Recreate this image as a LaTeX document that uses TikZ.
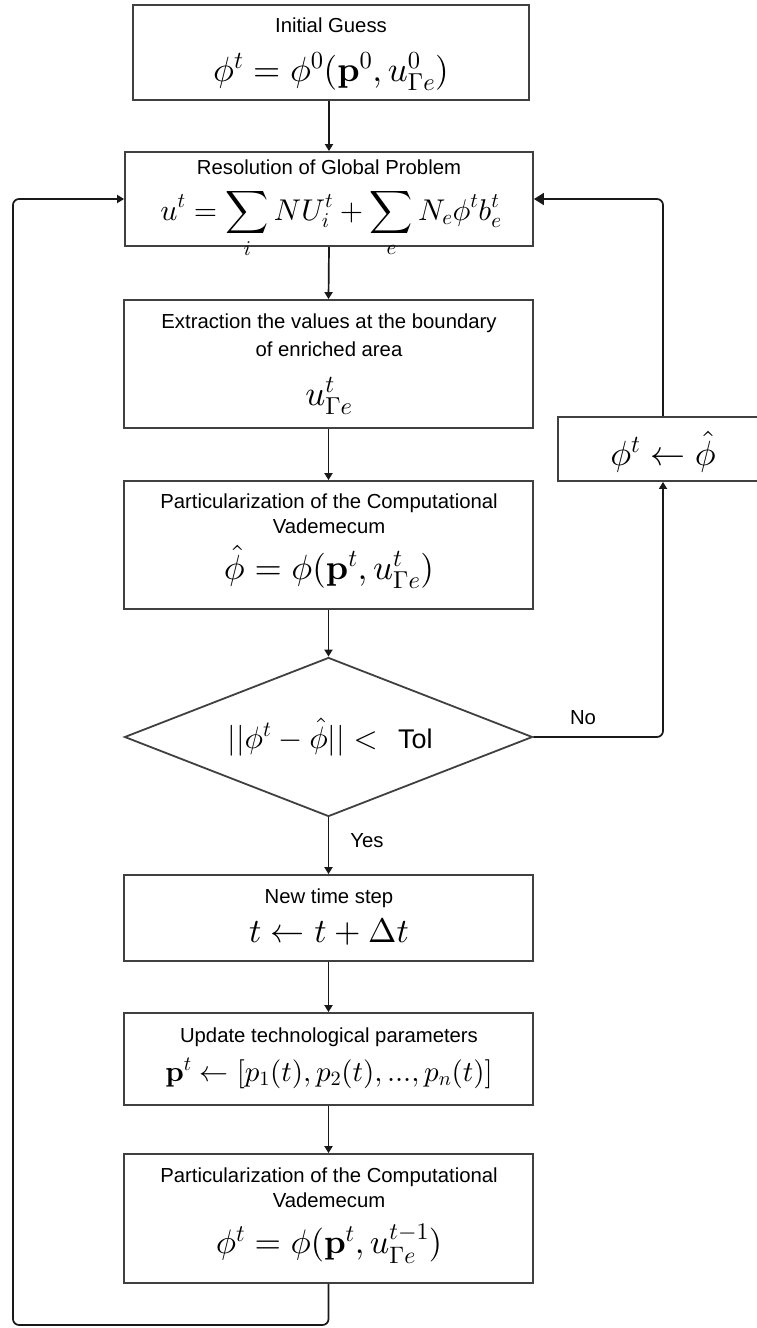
\documentclass[tikz,border=0pt]{standalone}
\usepackage[no-math]{fontspec}
\DeclareFontShape{OT1}{cmr}{m}{n}{<->cmr10}{}
\DeclareFontShape{OT1}{cmr}{bx}{n}{<->cmbx10}{}
\DeclareFontShape{OML}{cmm}{m}{it}{<->cmmi10}{}
\DeclareFontShape{OMS}{cmsy}{m}{n}{<->cmsy10}{}
\DeclareFontShape{OMX}{cmex}{m}{n}{<->cmex10}{}
\newfontfamily\lab{Liberation Sans}
\usetikzlibrary{arrows.meta,shapes.geometric}
\begin{document}
\begin{tikzpicture}[x=1pt,y=-1pt,
  box/.style={draw=black!75, line width=1.8pt, inner sep=0pt},
  lbl/.style={anchor=base, inner sep=0pt, font=\lab\fontsize{20.3}{24}\selectfont},
  eq/.style={anchor=base, inner sep=0pt, font=\fontsize{#1}{#1}\selectfont},
  conn/.style={draw=black!90, line width=1.7pt, rounded corners=6pt, -{Triangle[length=7pt,width=8pt]}},
  bigconn/.style={draw=black!90, line width=1.7pt, rounded corners=6pt, -{Triangle[length=10pt,width=12pt]}}]
\useasboundingbox (0,0) rectangle (757,1328);

% boxes
\node[box, minimum width=396pt, minimum height=95pt] (b1) at (331,52.5) {};
\node[box, minimum width=408pt, minimum height=94pt] (b2) at (329,199) {};
\node[box, minimum width=409pt, minimum height=128pt] (b3) at (328.5,364) {};
\node[box, minimum width=409pt, minimum height=128pt] (b4) at (328.5,545) {};
\node[box, diamond, aspect=2.566, minimum width=408pt, minimum height=159pt] (d) at (328.5,737) {};
\node[box, minimum width=409pt, minimum height=86pt] (b5) at (328.5,918) {};
\node[box, minimum width=409pt, minimum height=92pt] (b6) at (328.5,1059) {};
\node[box, minimum width=409pt, minimum height=129pt] (b7) at (328.5,1218.5) {};
\node[box, minimum width=210pt, minimum height=64pt] (p) at (663,449) {};

% texts
\node[lbl] (t1) at (331,32) {Initial Guess};
\node[eq=35] (f1) at (331,81) {$\phi^t=\phi^0(\mathbf{p}^0,u^0_{\Gamma e})$};
\node[lbl] (t2) at (329,174) {Resolution of Global Problem};
\node[eq=30] (f2) at (331,220) {$\displaystyle u^t=\sum_i NU_i^t+\sum_e N_e\phi^t b_e^t$};
\node[lbl] (t3a) at (329,328) {Extraction the values at the boundary};
\node[lbl] (t3b) at (329,356) {of enriched area};
\node[eq=35] (f3) at (329,405) {$u^t_{\Gamma e}$};
\node[lbl] (t4a) at (329,508) {Particularization of the Computational};
\node[lbl] (t4b) at (329,533) {Vademecum};
\node[eq=35] (f4) at (329,579) {$\hat\phi=\phi(\mathbf{p}^t,u^t_{\Gamma e})$};
\node[eq=35] (fp) at (663,465) {$\phi^t\leftarrow\hat\phi$};
\node[eq=31, anchor=base east] (fd) at (378,748) {$||\phi^t-\hat\phi||<$};
\node[anchor=base west, inner sep=0pt, font=\lab\fontsize{27}{30}\selectfont] (tol) at (398,748) {Tol};
\node[lbl] (no) at (583,724) {No};
\node[lbl] (yes) at (367,847) {Yes};
\node[lbl] (t5) at (329,903) {New time step};
\node[eq=34] (f5) at (329,942) {$t\leftarrow t+\Delta t$};
\node[lbl] (t6) at (329,1042) {Update technological parameters};
\node[eq=29] (f6) at (329,1081) {$\mathbf{p}^t\leftarrow[p_1(t),p_2(t),...,p_n(t)]$};
\node[lbl] (t7a) at (329,1182) {Particularization of the Computational};
\node[lbl] (t7b) at (329,1207) {Vademecum};
\node[eq=34] (f7) at (329,1253.5) {$\phi^t=\phi(\mathbf{p}^t,u^{t-1}_{\Gamma e})$};

% connectors
\draw[conn] (b2.north |- b1.south) -- (b2.north);
\draw[conn] (b2.south) -- (b3.north);
\draw[conn] (b3.south) -- (b4.north);
\draw[conn] (b4.south) -- (d.north);
\draw[conn] (d.south) -- (b5.north);
\draw[conn] (b5.south) -- (b6.north);
\draw[conn] (b6.south) -- (b7.north);
\draw[conn] (d.east) -| (p.south);
\draw[bigconn] (p.north) |- (b2.east);
\coordinate (lb) at (13,1325);
\draw[conn] (b7.south) |- (lb) |- (b2.west);
\end{tikzpicture}
\end{document}
